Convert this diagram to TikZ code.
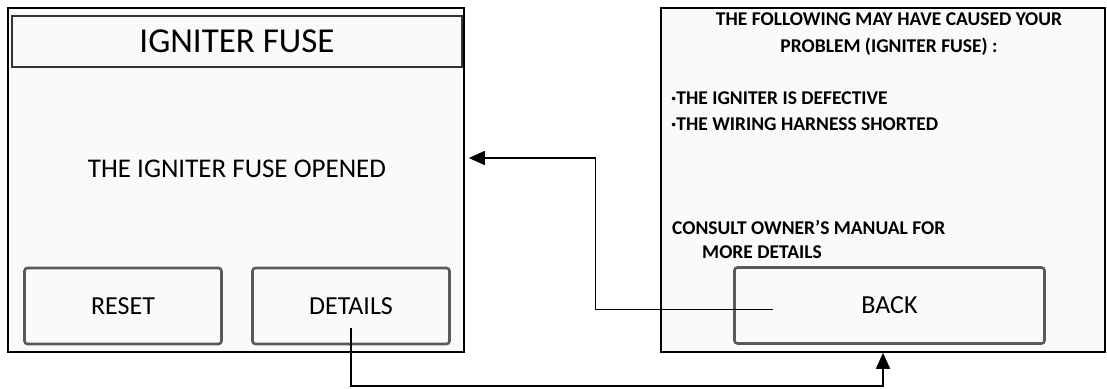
\documentclass[tikz,border=0pt]{standalone}
\usepackage{fontspec}
\setmainfont{Carlito}
\usepackage{tikz}
\usetikzlibrary{positioning,arrows.meta,calc}

\definecolor{panelbg}{HTML}{FAFAFA}
\definecolor{btnedge}{HTML}{5A5A5A}

\begin{document}
\begin{tikzpicture}[x=1pt, y=-1pt,
  screen/.style={draw, line width=1.6pt, fill=panelbg, minimum width=456pt, minimum height=344pt, inner sep=0pt},
  titlebox/.style={draw=black!80, line width=1.4pt, fill=panelbg, minimum width=450pt, minimum height=51pt, inner sep=0pt, font=\fontsize{35}{38}\selectfont},
  btn/.style={draw=btnedge, line width=2.6pt, rounded corners=3pt, fill=panelbg, minimum width=197pt, minimum height=76pt, inner sep=0pt, font=\fontsize{26}{30}\selectfont},
  msg/.style={font=\bfseries\fontsize{19.5}{22}\selectfont, inner sep=0pt, anchor=west},
  arr/.style={-{Triangle[length=16pt, width=14pt]}, line width=1.6pt}]
\useasboundingbox (0,0) rectangle (1107,388);
% left screen
\node[screen] (fuse) at (236,180) {};
\node[titlebox] (fusetitle) at (237,41.5) {IGNITER FUSE};
\node[font=\fontsize{27}{30}\selectfont] (opened) at (237,169) {THE IGNITER FUSE OPENED};
\node[btn] (reset) at (123,306) {RESET};
\node[btn] (details) at (351,306) {DETAILS};
% right screen
\node[screen, minimum width=444pt] (help) at (883,180) {};
\node[font=\bfseries\fontsize{19.5}{26.5}\selectfont, align=center] (cause) at (889,34) {THE FOLLOWING MAY HAVE CAUSED YOUR\\PROBLEM (IGNITER FUSE) :};
\node[msg] (igniter) at (671,98) {·THE IGNITER IS DEFECTIVE};
\node[msg] (wiring) at (671,124) {·THE WIRING HARNESS SHORTED};
\node[msg] (consult) at (672,227) {CONSULT OWNER'S MANUAL FOR};
\node[msg] (more) at (702,252) {MORE DETAILS};
\node[btn, minimum width=310pt] (back) at (889.5,305.5) {BACK};
% links
\draw[arr] ([yshift=-22pt]details.center) -- ++(0,58) -| (help.south);
\draw[arr] ([xshift=-117pt,yshift=-4pt]back.center) -- ++(-177,0) |- ([xshift=4pt,yshift=22pt]fuse.east);
\end{tikzpicture}
\end{document}
